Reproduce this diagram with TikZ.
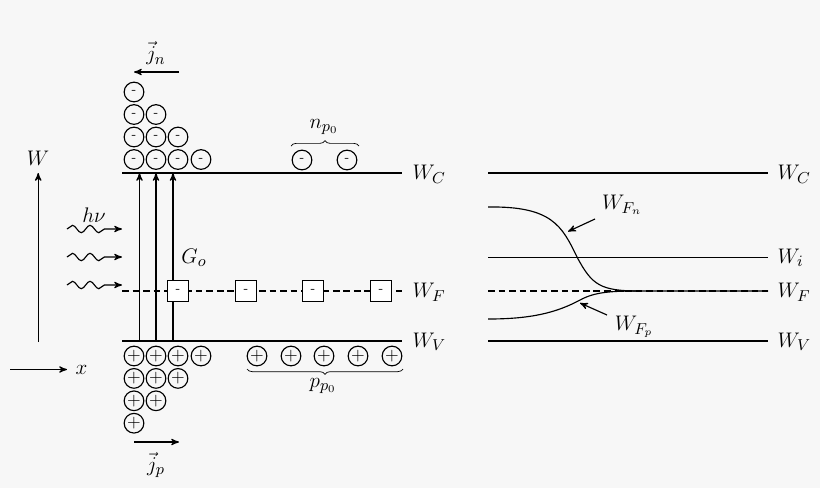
\documentclass[tikz,border=0pt]{standalone}
\usepackage{amsmath,amsfonts,amssymb}
\usetikzlibrary{arrows,decorations.pathmorphing,decorations.pathreplacing}
\definecolor{bandbg}{RGB}{247,247,247}
\tikzset{
	elec/.style={draw,circle,line width=0.65pt,minimum size=11.2pt,inner sep=0pt,font=\scriptsize},
	hole/.style={draw,circle,line width=0.65pt,minimum size=11.2pt,inner sep=0pt,font=\normalsize},
	trap/.style={draw,fill=white,line width=0.65pt,minimum size=11.8pt,inner sep=0pt,font=\scriptsize},
	band/.style={line width=1.1pt},
	fermi/.style={line width=1pt,dash pattern=on 3.8pt off 2.2pt},
	lab/.style={font=\fontsize{12.6}{15}\selectfont,inner sep=0pt},
	wave/.style={decorate,decoration={snake,amplitude=2.1pt,segment length=10pt,post length=8pt}},
}
\begin{document}
\begin{tikzpicture}[x=0.02cm,y=-0.02cm,>=stealth',line width=0.65pt]
	\fill[bandbg] (0,0) rectangle (820,488);
	\useasboundingbox (0,0) rectangle (820,488);

	% axes
	\coordinate (wbot) at (38.2,342);
	\coordinate (wtop) at (38.2,173);
	\draw[->] (wbot) -- (wtop);
	\node[lab] (wlab) at (38,158) {$W$};
	\coordinate (xleft) at (10,369.5);
	\node[lab,anchor=west] (xlab) at (75,370) {$x$};
	\draw[->] (xleft) -- (67,369.5);

	%% left diagram
	\coordinate (wcl) at (122,173);
	\coordinate (wvl) at (122,341);
	\coordinate (wfl) at (122,291);
	\node[lab,anchor=west] (wclab) at (412,174.5) {$W_C$};
	\node[lab,anchor=west] (wflab) at (412,292.5) {$W_F$};
	\node[lab,anchor=west] (wvlab) at (412,342) {$W_V$};
	\coordinate (wcr) at (402,173);
	\coordinate (wfr) at (402,291);
	\coordinate (wvr) at (402,341);
	\draw[band] (wcl) -- (wcr);
	\draw[band] (wvl) -- (wvr);
	\draw[fermi] (wfl) -- (wfr);

	% generation
	\foreach \x/\n in {139.5/a,156/b,173/c} {
		\coordinate (gb\n) at (\x,341);
		\coordinate (gt\n) at (\x,173);
		\draw[->] (gb\n) -- (gt\n);
	}
	\node[lab] (golab) at (194,258) {$G_o$};

	% photons
	\foreach \y in {229,257,285} {
		\coordinate (phs) at (67,\y);
		\coordinate (phe) at (122,\y);
		\draw[->,wave] (phs) -- (phe);
	}
	\node[lab] (hnulab) at (94,215) {$h\nu$};

	% traps
	\foreach \x/\n in {178/a,246/b,313/c,381/d}
		\node[trap] (trap\n) at (\x,291) {-};

	% electrons
	\foreach \x/\n/\m in {134/1/4,156/2/3,178/3/2,201/4/1}
		\foreach \r in {1,...,\m} {
			\pgfmathsetmacro{\ypos}{159.5-22.5*(\r-1)}
			\node[elec] (el\n\r) at (\x,\ypos) {-};
		}
	\node[elec] (nmina) at (302,160) {-};
	\node[elec] (nminb) at (347,160) {-};
	\coordinate (nbl) at (291,146);
	\coordinate (nbr) at (359,146);
	\draw[decorate,decoration={brace,amplitude=3pt},line width=0.4pt] (nbl) -- (nbr);
	\node[lab] (nlab) at (324,127) {$n_{p_0}$};

	% holes
	\foreach \x/\n/\m in {134/1/4,156/2/3,178/3/2,201/4/1}
		\foreach \r in {1,...,\m} {
			\pgfmathsetmacro{\ypos}{356+22.4*(\r-1)}
			\node[hole] (ho\n\r) at (\x,\ypos) {$+$};
		}
	\foreach \x/\n in {257/a,291/b,324/c,358/d,392/e}
		\node[hole] (pmin\n) at (\x,356) {$+$};
	\coordinate (pbr) at (403,369);
	\coordinate (pbl) at (247,369);
	\draw[decorate,decoration={brace,amplitude=3pt},line width=0.4pt] (pbr) -- (pbl);
	\node[lab] (plab) at (323,386) {$p_{p_0}$};

	% currents
	\coordinate (jnr) at (179,72);
	\coordinate (jnl) at (134,72);
	\draw[->] (jnr) -- (jnl);
	\node[lab] (jnlab) at (156,53) {$\vec{j}_n$};
	\coordinate (jpl) at (134,442);
	\coordinate (jpr) at (179,442);
	\draw[->] (jpl) -- (jpr);
	\node[lab] (jplab) at (156,465) {$\vec{j}_p$};

	%% right diagram
	\coordinate (rcl) at (488,173);
	\coordinate (rcr) at (768,173);
	\coordinate (ril) at (488,257);
	\coordinate (rir) at (768,257);
	\coordinate (rfl) at (488,291);
	\coordinate (rfr) at (768,291);
	\coordinate (rvl) at (488,341);
	\coordinate (rvr) at (768,341);
	\draw[band] (rcl) -- (rcr);
	\draw[line width=0.45pt] (ril) -- (rir);
	\draw[fermi] (rfl) -- (rfr);
	\draw[band] (rvl) -- (rvr);
	\node[lab,anchor=west] (rclab) at (777,174.5) {$W_C$};
	\node[lab,anchor=west] (rilab) at (777,258) {$W_i$};
	\node[lab,anchor=west] (rflab) at (777,292.5) {$W_F$};
	\node[lab,anchor=west] (rvlab) at (777,342) {$W_V$};

	% quasi fermi levels
	\draw (488,207) .. controls (552,206) and (562,226) .. (577,257)
		.. controls (592,285) and (600,291) .. (640,291) -- (rfr);
	\draw (488,319) .. controls (530,319) and (556,313) .. (580,300)
		.. controls (595,292) and (610,291) .. (640,291);

	\node[lab] (fnlab) at (622,205) {$W_{F_n}$};
	\node[lab] (fplab) at (634,327) {$W_{F_p}$};
	\coordinate (fnt) at (595,219);
	\coordinate (fnh) at (568,231.5);
	\coordinate (fpt) at (607,315);
	\coordinate (fph) at (580,303);
	\draw[->] (fnt) -- (fnh);
	\draw[->] (fpt) -- (fph);
\end{tikzpicture}
\end{document}
